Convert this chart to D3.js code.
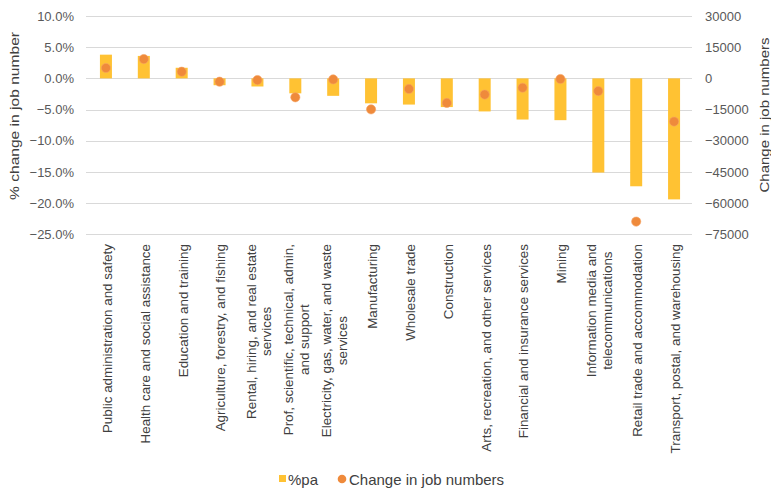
<!DOCTYPE html>
<html>
<head>
<meta charset="utf-8">
<script src="https://cdn.jsdelivr.net/npm/d3@7"></script>
<style>
  html, body { margin: 0; padding: 0; background: #fff; }
  svg { display: block; font-family: "Liberation Sans", Arial, sans-serif; }
</style>
</head>
<body>
<svg id="chart" width="771" height="488"></svg>
<script>
// Industries, ordered as plotted
const industries = [
  ["Public administration and safety"],
  ["Health care and social assistance"],
  ["Education and training"],
  ["Agriculture, forestry, and fishing"],
  ["Rental, hiring, and real estate", "services"],
  ["Prof, scientific, technical, admin,", "and support"],
  ["Electricity, gas, water, and waste", "services"],
  ["Manufacturing"],
  ["Wholesale trade"],
  ["Construction"],
  ["Arts, recreation, and other services"],
  ["Financial and insurance services"],
  ["Mining"],
  ["Information media and", "telecommunications"],
  ["Retail trade and accommodation"],
  ["Transport, postal, and warehousing"]
];

// % change per annum (bars, left axis)
const pctChange = [0.038, 0.036, 0.017, -0.011, -0.013, -0.024, -0.028, -0.040,
                   -0.042, -0.046, -0.053, -0.066, -0.067, -0.151, -0.173, -0.194];

// Change in job numbers (dots, right axis)
const jobChange = [5000, 9300, 3200, -1600, -800, -9100, -500, -14900,
                   -5100, -11800, -7800, -4500, -300, -6100, -68900, -20800];

const leftTicks = [0.10, 0.05, 0, -0.05, -0.10, -0.15, -0.20, -0.25];
const rightTicks = [30000, 15000, 0, -15000, -30000, -45000, -60000, -75000];

const barColor = "#FFC233";
const dotColor = "#EF8A3B";

const svg = d3.select("#chart");
const plot = { left: 86, right: 692, top: 16, bottom: 234.3 };

const x = d3.scaleBand()
  .domain(d3.range(industries.length))
  .range([plot.left + 1, plot.right + 1])
  .padding(0);

const yL = d3.scaleLinear().domain([-0.25, 0.10]).range([plot.bottom, plot.top]);
const yR = d3.scaleLinear().domain([-75000, 30000]).range([plot.bottom, plot.top]);

// Gridlines
svg.append("g")
  .selectAll("line")
  .data(leftTicks)
  .join("line")
  .attr("x1", plot.left).attr("x2", plot.right)
  .attr("y1", d => Math.round(yL(d)) + 0.5)
  .attr("y2", d => Math.round(yL(d)) + 0.5)
  .attr("stroke", "#D9D9D9")
  .attr("stroke-width", 1);

// Left axis
const leftAxis = svg.append("g")
  .attr("transform", `translate(${plot.left - 12},0)`)
  .call(d3.axisLeft(yL).tickValues(leftTicks).tickFormat(d3.format(".1%")).tickSize(0).tickPadding(0));
leftAxis.select(".domain").remove();
leftAxis.selectAll("text")
  .attr("font-size", 13).attr("fill", "#595959")
  .attr("font-family", "Liberation Sans, Arial, sans-serif");

// Right axis
const rightAxis = svg.append("g")
  .attr("transform", `translate(${plot.right + 13},0)`)
  .call(d3.axisRight(yR).tickValues(rightTicks).tickFormat(d3.format("d")).tickSize(0).tickPadding(0));
rightAxis.select(".domain").remove();
rightAxis.selectAll("text")
  .attr("font-size", 13).attr("fill", "#595959")
  .attr("font-family", "Liberation Sans, Arial, sans-serif");

// Bars
const barW = 12;
svg.append("g")
  .selectAll("rect")
  .data(pctChange)
  .join("rect")
  .attr("x", (d, i) => x(i) + x.bandwidth() / 2 - barW / 2)
  .attr("width", barW)
  .attr("y", d => Math.min(yL(d), yL(0)))
  .attr("height", d => Math.abs(yL(d) - yL(0)))
  .attr("fill", barColor);

// Dots
svg.append("g")
  .selectAll("circle")
  .data(jobChange)
  .join("circle")
  .attr("cx", (d, i) => x(i) + x.bandwidth() / 2)
  .attr("cy", d => yR(d))
  .attr("r", 4.6)
  .attr("fill", dotColor)
  .attr("stroke", "#F5A263")
  .attr("stroke-width", 0.6);

// Category labels, rotated, right-aligned against the top
const lineGap = 15.5;
const labelTop = 244;
const labels = svg.append("g");
industries.forEach((lines, i) => {
  const cx = x(i) + x.bandwidth() / 2;
  const g = labels.append("g")
    .attr("transform", `translate(${cx},${labelTop}) rotate(-90)`);
  const texts = lines.map((t, k) => g.append("text")
    .attr("font-size", 13.4)
    .attr("fill", "#404040")
    .attr("y", 5.8 + (k - (lines.length - 1) / 2) * lineGap)
    .text(t));
  const maxLen = d3.max(texts, t => t.node().getComputedTextLength());
  texts.forEach(t => t.attr("text-anchor", "middle").attr("x", -maxLen / 2));
});

// Axis titles
svg.append("text")
  .attr("transform", "translate(19,116) rotate(-90)")
  .attr("text-anchor", "middle")
  .attr("font-size", 13)
  .attr("fill", "#404040")
  .attr("textLength", 168)
  .attr("lengthAdjust", "spacingAndGlyphs")
  .text("% change in job number");

svg.append("text")
  .attr("transform", "translate(769,115) rotate(-90)")
  .attr("text-anchor", "middle")
  .attr("font-size", 13.5)
  .attr("fill", "#404040")
  .attr("textLength", 155)
  .attr("lengthAdjust", "spacingAndGlyphs")
  .text("Change in job numbers");

// Legend
const legend = svg.append("g");
legend.append("rect")
  .attr("x", 279).attr("y", 475).attr("width", 7).attr("height", 7)
  .attr("fill", barColor);
legend.append("text")
  .attr("x", 288).attr("y", 484.5)
  .attr("font-size", 15).attr("fill", "#404040")
  .text("%pa");
legend.append("circle")
  .attr("cx", 342).attr("cy", 479).attr("r", 4.3)
  .attr("fill", dotColor);
legend.append("text")
  .attr("x", 349).attr("y", 484.5)
  .attr("font-size", 15).attr("fill", "#404040")
  .text("Change in job numbers");
</script>
</body>
</html>
